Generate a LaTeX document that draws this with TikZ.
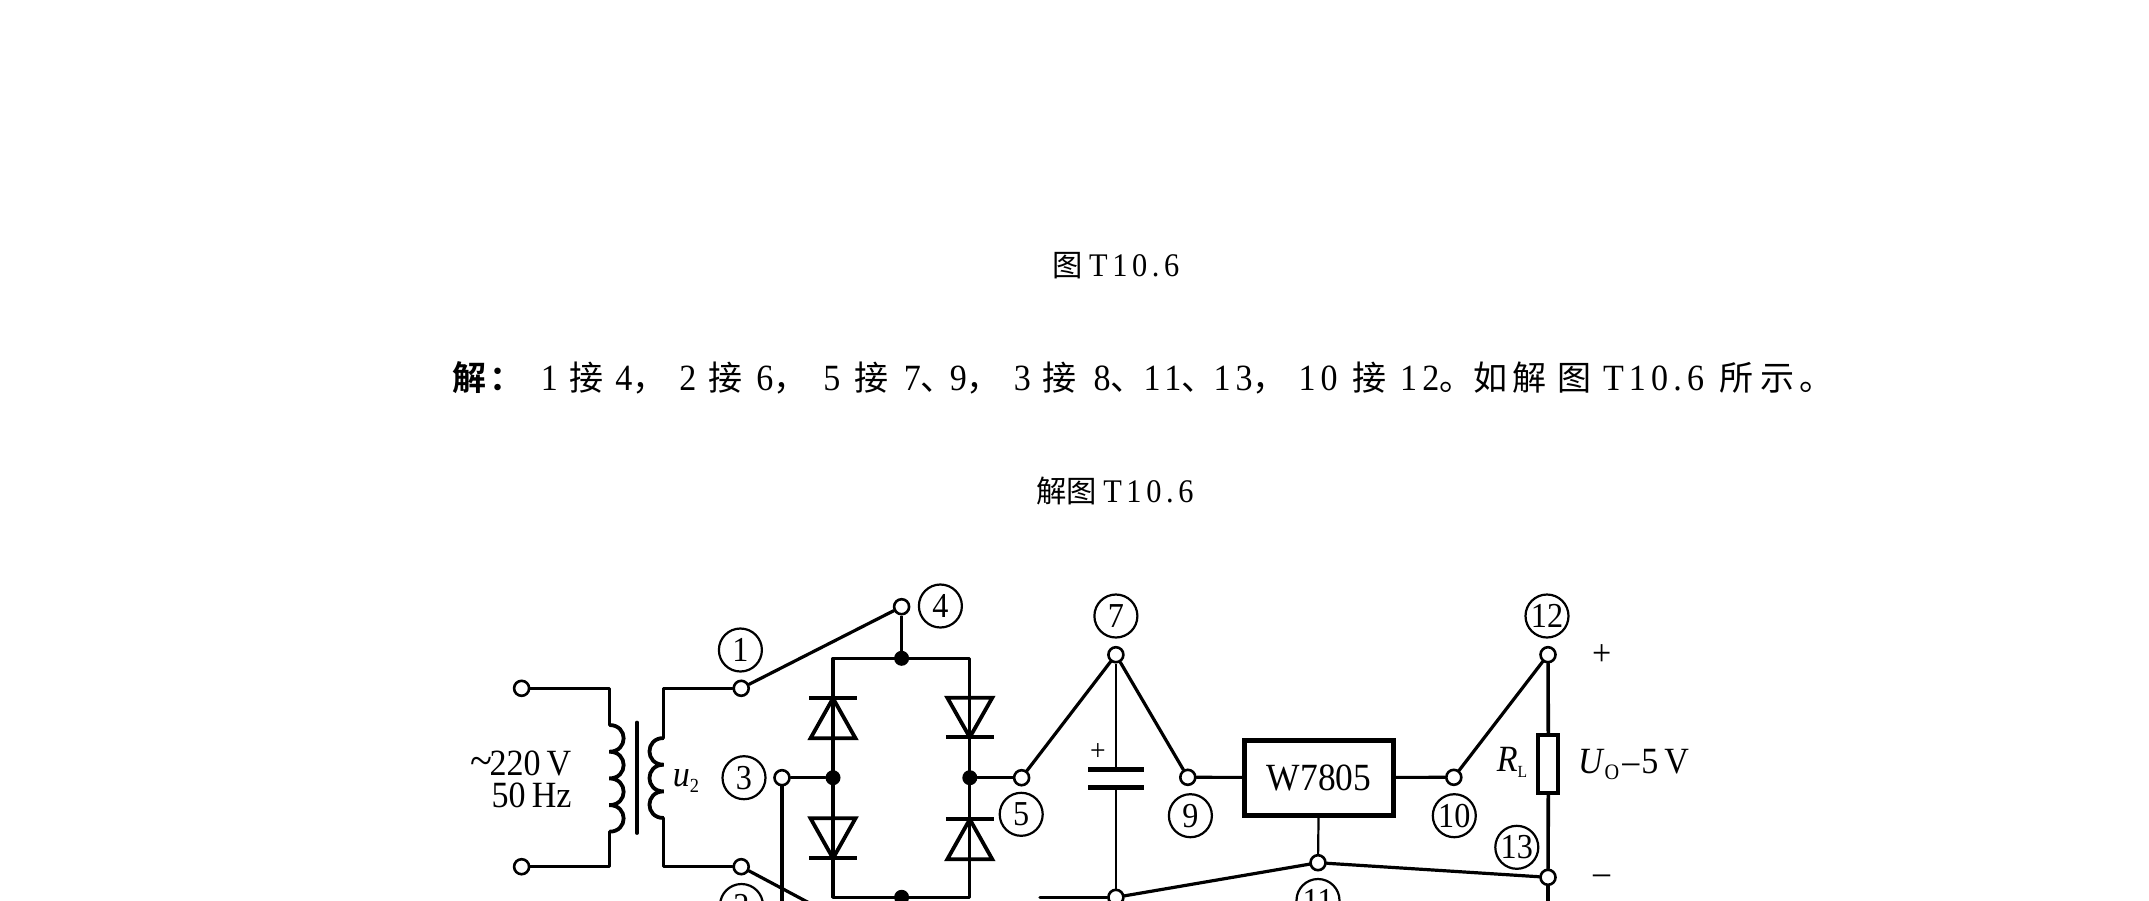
\documentclass[tikz,border=0pt]{standalone}
\usepackage{fontspec}
\setmainfont{Liberation Serif}[FakeStretch=0.92]
\newfontfamily\cjk{Noto Sans CJK SC}[BoldFont=* Bold,Scale=0.92]
\newfontfamily\spc{Liberation Serif}[LetterSpace=14,FakeStretch=0.92]
\newcommand{\seg}[2]{\makebox[#1pt][l]{#2}}
\newcommand{\hz}[1]{{\cjk #1}}
\newcommand{\ds}[1]{{\spc #1}}
\tikzset{
  wire/.style={line width=3.2pt,line cap=round,line join=round},
  thinwire/.style={line width=2.2pt},
  part/.style={line width=3.8pt,line join=miter},
  term/.style={circle,draw,line width=2.6pt,fill=white,minimum size=15pt,inner sep=0pt},
  jdot/.style={circle,fill=black,minimum size=15pt,inner sep=0pt},
  num/.style={circle,draw,line width=2.2pt,minimum size=43pt,inner sep=0pt,font=\fontsize{35}{37}\selectfont},
  lab/.style={inner sep=0pt,font=\fontsize{37}{32}\selectfont},
  coilw/.style={line width=3.8pt},
  sentence/.style={anchor=west,inner sep=0pt,font=\fontsize{37}{40}\selectfont},
  caption/.style={inner sep=0pt,font=\fontsize{33}{35}\selectfont},
}
\newcommand{\mydiode}[3]{% x, base y, bar y
  \draw[part] (#1-22.5,#2) -- (#1+22.5,#2) -- (#1,#3) -- cycle;
  \draw[part] (#1-24,#3) -- (#1+24,#3);
}
\begin{document}
\begin{tikzpicture}[x=1pt,y=-1pt]
\clip (0,0) rectangle (2149,900);
\fill[white] (0,0) rectangle (2149,900);
% texts
\node[caption] (cap1) at (1116,266) {\hz{图}\hspace{6pt}\ds{T10.6}};
\node[sentence] (line) at (452.6,378) {\seg{88}{\hz{\bfseries 解\hspace{3pt}：}}\seg{28.7}{1}\seg{45.8}{\hz{接}}\seg{64}{4\hz{，}}\seg{29}{2}\seg{48}{\hz{接}}\seg{67}{6\hz{，}}\seg{31}{5}\seg{49.6}{\hz{接}}\seg{46}{7\hz{、}}\seg{64}{9\hz{，}}\seg{29}{3}\seg{50.6}{\hz{接}}\seg{50}{8\hz{、}}\seg{70}{\ds{11}\hz{、}}\seg{85}{\ds{13}\hz{，}}\seg{53.6}{\ds{10}}\seg{48}{\hz{接}}\seg{73.6}{\ds{12}\hz{。}}\seg{38.3}{\hz{如}}\seg{45}{\hz{解}}\seg{46}{\hz{图}}\seg{116.8}{\ds{T10.6}}\seg{41}{\hz{所}}\seg{38.4}{\hz{示}}\hz{。}};
\node[caption] (cap2) at (1115,491) {\hz{解图}\hspace{6pt}\ds{T10.6}};
% terminals
\node[term] (tA) at (521.6,688.3) {};
\node[term] (tB) at (521.6,866.7) {};
\node[term] (t1) at (741.2,688.3) {};
\node[term] (t2) at (741.2,866.7) {};
\node[term] (t3) at (782,777.7) {};
\node[term] (t4) at (901.6,606.7) {};
\node[term] (t5) at (1021.6,777.7) {};
\node[term] (t7) at (1115.9,654.7) {};
\node[term] (t8) at (1115.9,897.3) {};
\node[term] (t9) at (1187.8,777.3) {};
\node[term] (t10) at (1453.8,777.3) {};
\node[term] (t11) at (1318,862.7) {};
\node[term] (t12) at (1548,654.7) {};
\node[term] (t13) at (1548,877.3) {};
% junctions
\node[jdot] (jT) at (901.6,658.3) {};
\node[jdot] (jB) at (901.6,897.3) {};
\node[jdot] (jL) at (833,777.7) {};
\node[jdot] (jR) at (969.8,777.7) {};
% number labels
\node[num] (n1) at (740.4,650) {1};
\node[num] (n2) at (741.5,905.5) {2};
\node[num] (n3) at (744,777.7) {3};
\node[num] (n4) at (940.4,606) {4};
\node[num] (n5) at (1021.2,814.3) {5};
\node[num] (n7) at (1115.9,616) {7};
\node[num] (n9) at (1190.4,815.7) {9};
\node[num] (n10) at (1454.3,815.7) {10};
\node[num] (n11) at (1318,900.5) {11};
\node[num] (n12) at (1547,616) {12};
\node[num] (n13) at (1516.8,847.3) {13};
% transformer
\coordinate (pT) at (609.4,725);
\coordinate (pB) at (609.4,831.7);
\coordinate (sT) at (663.7,738);
\coordinate (sB) at (663.7,818);
\coordinate (cT) at (637,722.3);
\coordinate (cB) at (637,833.3);
\draw[wire] (tA) -- (tA -| pT) -- (pT);
\draw[wire] (tB) -- (tB -| pB) -- (pB);
\draw[wire] (t1) -- (t1 -| sT) -- (sT);
\draw[wire] (t2) -- (t2 -| sB) -- (sB);
\draw[wire] (cT) -- (cB);
\draw[coilw] (pT)
  .. controls +(19,0) and +(19,0) .. +(0,26.7)
  .. controls +(19,0) and +(19,0) .. +(0,53.4)
  .. controls +(19,0) and +(19,0) .. +(0,80.1)
  .. controls +(19,0) and +(19,0) .. (pB);
\draw[coilw] (sT)
  .. controls +(-19,0) and +(-19,0) .. +(0,26.7)
  .. controls +(-19,0) and +(-19,0) .. +(0,53.4)
  .. controls +(-19,0) and +(-19,0) .. (sB);
% bridge
\coordinate (bTL) at (833,658.3);
\coordinate (bTR) at (969.8,658.3);
\coordinate (bBL) at (833,897.3);
\coordinate (bBR) at (969.8,897.3);
\draw[wire,line cap=butt] (bTL) -- (bTR) -- (bBR) -- (bBL) -- cycle;
\mydiode{833}{738.3}{698.3}
\mydiode{969.8}{697.7}{737.3}
\mydiode{833}{818.3}{858.3}
\mydiode{969.8}{859.3}{819.3}
% connectors
\draw[wire] (t1) -- (t4);
\draw[thinwire,line width=2.6pt] (t4) -- (jT);
\draw[wire] (t3) -- (jL);
\draw[wire] (jR) -- (t5);
\draw[wire] (t5) -- (t7);
\draw[wire] (t7) -- (t9);
\coordinate (o2) at (860,930);
\coordinate (o3) at (782,930);
\coordinate (o13) at (1548,930);
\coordinate (o8) at (1040,897.3);
\draw[wire] (t2) -- (o2);
\draw[wire] (t3) -- (o3);
\draw[wire] (t8) -- (o8);
% capacitor
\coordinate (capA) at (1115.9,769.3);
\coordinate (capB) at (1115.9,787.3);
\draw[thinwire] (t7) -- (capA);
\draw[thinwire] (capB) -- (t8);
\draw[line width=5pt] (1088,769.3) -- (1143.6,769.3);
\draw[line width=5pt] (1088,787.3) -- (1143.6,787.3);
\node[lab,font=\fontsize{30}{32}\selectfont] (capplus) at (1098,752) {+};
% regulator
\node[draw,line width=5pt,minimum width=149pt,minimum height=75pt,inner sep=0pt,
      font=\fontsize{38.5}{40}\selectfont] (reg) at (1319,777.5) {W7805};
\draw[wire] (t9) -- (reg);
\draw[wire] (reg) -- (t10);
\draw[thinwire] (reg) -- (t11);
\draw[wire] (t8) -- (t11);
\draw[wire] (t11) -- (t13);
\draw[wire] (t10) -- (t12);
% load
\node[draw,line width=4pt,fill=white,minimum width=20pt,minimum height=58pt,inner sep=0pt] (RL) at (1548.4,764) {};
\draw[wire,line width=3.6pt] (t12) -- (RL);
\draw[wire,line width=3.6pt] (RL) -- (t13);
\draw[wire,line width=3.6pt] (t13) -- (o13);
% labels
\node[lab,align=center] (src) at (521,779) {{\fontsize{44}{32}\selectfont\char`~}\hspace{-3pt}220\hspace{6pt}V\\\hspace*{21pt}50\,Hz};
\node[lab] (u2) at (686,781) {\textit{u}\raisebox{-6pt}{\fontsize{20}{20}\selectfont 2}};
\node[lab] (Rl) at (1512,762) {\textit{R}\raisebox{-6pt}{\fontsize{17}{17}\selectfont L}};
\node[lab,anchor=west] (Uo) at (1578,764) {\textit{U}\raisebox{-6pt}{\fontsize{22}{22}\selectfont O}\hspace{3pt}–\hspace{2pt}5\hspace{6pt}V};
\node[lab] (plus) at (1601.6,655.5) {+};
\node[lab] (minus) at (1601.6,880) {–};
\end{tikzpicture}
\end{document}
